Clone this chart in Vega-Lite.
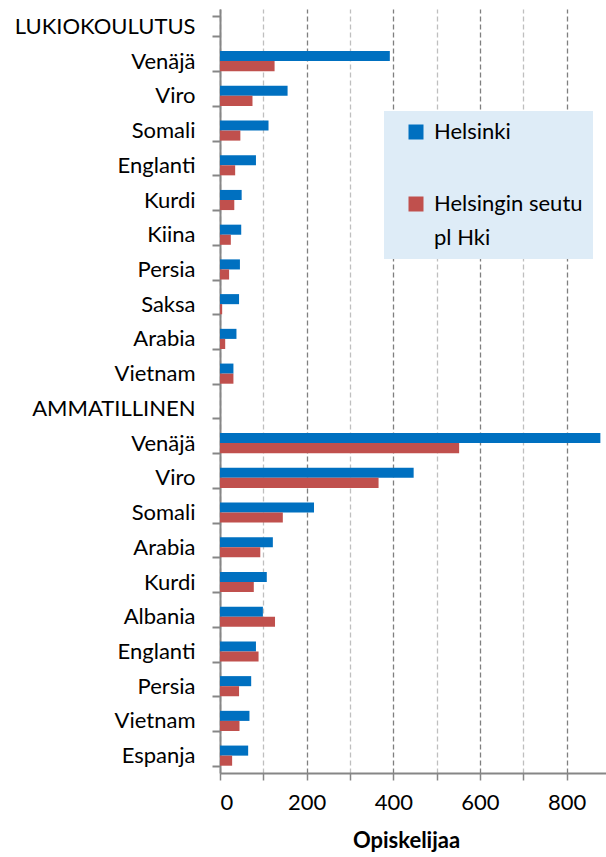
{
  "$schema": "https://vega.github.io/schema/vega-lite/v6.json",
  "autosize": {"type": "none"},
  "width": 386,
  "height": 764,
  "padding": {"left": 220, "top": 9, "right": 0, "bottom": 84},
  "background": "white",
  "config": {
    "font": "Lato",
    "view": {"stroke": null},
    "style": {"guide-label": {"lineHeight": 34}}
  },
  "data": {
    "values": [
      {"k": "L|Venäjä", "s": "Helsinki", "v": 392},
      {"k": "L|Venäjä", "s": "Helsingin seutu pl Hki", "v": 126},
      {"k": "L|Viro", "s": "Helsinki", "v": 156},
      {"k": "L|Viro", "s": "Helsingin seutu pl Hki", "v": 75},
      {"k": "L|Somali", "s": "Helsinki", "v": 112},
      {"k": "L|Somali", "s": "Helsingin seutu pl Hki", "v": 47},
      {"k": "L|Englanti", "s": "Helsinki", "v": 83},
      {"k": "L|Englanti", "s": "Helsingin seutu pl Hki", "v": 35},
      {"k": "L|Kurdi", "s": "Helsinki", "v": 50},
      {"k": "L|Kurdi", "s": "Helsingin seutu pl Hki", "v": 33},
      {"k": "L|Kiina", "s": "Helsinki", "v": 49},
      {"k": "L|Kiina", "s": "Helsingin seutu pl Hki", "v": 25},
      {"k": "L|Persia", "s": "Helsinki", "v": 46},
      {"k": "L|Persia", "s": "Helsingin seutu pl Hki", "v": 21},
      {"k": "L|Saksa", "s": "Helsinki", "v": 44},
      {"k": "L|Saksa", "s": "Helsingin seutu pl Hki", "v": 5},
      {"k": "L|Arabia", "s": "Helsinki", "v": 38},
      {"k": "L|Arabia", "s": "Helsingin seutu pl Hki", "v": 12},
      {"k": "L|Vietnam", "s": "Helsinki", "v": 31},
      {"k": "L|Vietnam", "s": "Helsingin seutu pl Hki", "v": 31},
      {"k": "A|Venäjä", "s": "Helsinki", "v": 878},
      {"k": "A|Venäjä", "s": "Helsingin seutu pl Hki", "v": 552},
      {"k": "A|Viro", "s": "Helsinki", "v": 447},
      {"k": "A|Viro", "s": "Helsingin seutu pl Hki", "v": 366},
      {"k": "A|Somali", "s": "Helsinki", "v": 217},
      {"k": "A|Somali", "s": "Helsingin seutu pl Hki", "v": 145},
      {"k": "A|Arabia", "s": "Helsinki", "v": 122},
      {"k": "A|Arabia", "s": "Helsingin seutu pl Hki", "v": 93},
      {"k": "A|Kurdi", "s": "Helsinki", "v": 108},
      {"k": "A|Kurdi", "s": "Helsingin seutu pl Hki", "v": 78},
      {"k": "A|Albania", "s": "Helsinki", "v": 99},
      {"k": "A|Albania", "s": "Helsingin seutu pl Hki", "v": 127},
      {"k": "A|Englanti", "s": "Helsinki", "v": 83},
      {"k": "A|Englanti", "s": "Helsingin seutu pl Hki", "v": 89},
      {"k": "A|Persia", "s": "Helsinki", "v": 72},
      {"k": "A|Persia", "s": "Helsingin seutu pl Hki", "v": 44},
      {"k": "A|Vietnam", "s": "Helsinki", "v": 68},
      {"k": "A|Vietnam", "s": "Helsingin seutu pl Hki", "v": 45},
      {"k": "A|Espanja", "s": "Helsinki", "v": 65},
      {"k": "A|Espanja", "s": "Helsingin seutu pl Hki", "v": 28}
    ]
  },
  "mark": {"type": "bar"},
  "encoding": {
    "y": {
      "field": "k",
      "type": "nominal",
      "scale": {
        "domain": ["L|LUKIOKOULUTUS", "L|Venäjä", "L|Viro", "L|Somali", "L|Englanti", "L|Kurdi", "L|Kiina", "L|Persia", "L|Saksa", "L|Arabia", "L|Vietnam", "A|AMMATILLINEN", "A|Venäjä", "A|Viro", "A|Somali", "A|Arabia", "A|Kurdi", "A|Albania", "A|Englanti", "A|Persia", "A|Vietnam", "A|Espanja"],
        "paddingInner": 0.42,
        "paddingOuter": 0.21
      },
      "axis": {
        "title": null,
        "labelExpr": "split(datum.label, '|')[1]",
        "labelFontSize": 22,
        "labelColor": "#000000",
        "labelPadding": 17,
        "labelLimit": 300,
        "tickBand": "extent",
        "tickSize": 8,
        "tickColor": "#868686",
        "tickWidth": 2,
        "domainColor": "#868686",
        "domainWidth": 2,
        "grid": false
      }
    },
    "x": {
      "field": "v",
      "type": "quantitative",
      "scale": {"domain": [0, 891], "nice": false},
      "axis": {
        "title": "Opiskelijaa",
        "titleFontSize": 22,
        "titleFontWeight": "bold",
        "titleColor": "#000000",
        "titlePadding": 17,
        "titleX": 186,
        "values": [0, 100, 200, 300, 400, 500, 600, 700, 800],
        "labelExpr": "datum.value % 200 == 0 ? datum.label : ''",
        "labelFontSize": 22,
        "labelColor": "#000000",
        "labelPadding": 12,
        "tickSize": 7,
        "tickColor": "#868686",
        "tickWidth": 1.5,
        "domainColor": "#868686",
        "domainWidth": 2,
        "grid": true,
        "gridDash": [5, 3],
        "gridWidth": 1.3,
        "gridColor": {"condition": {"test": "datum.value % 200 == 0", "value": "#7f7f7f"}, "value": "#bfbfbf"}
      }
    },
    "color": {
      "field": "s",
      "type": "nominal",
      "sort": ["Helsinki", "Helsingin seutu pl Hki"],
      "scale": {"domain": ["Helsinki", "Helsingin seutu pl Hki"], "range": ["#0070c0", "#c0504d"]},
      "legend": {
        "title": null,
        "orient": "none",
        "legendX": 164,
        "legendY": 102,
        "fillColor": "#deecf7",
        "padding": 10,
        "symbolOffset": 11,
        "symbolType": "square",
        "symbolSize": 225,
        "symbolStrokeWidth": 0,
        "labelFontSize": 22,
        "labelColor": "#000000",
        "labelLimit": 300,
        "labelOffset": 7,
        "rowPadding": 50,
        "labelExpr": "datum.value == 'Helsingin seutu pl Hki' ? ['Helsingin seutu', 'pl Hki'] : datum.label"
      }
    },
    "yOffset": {"field": "s", "type": "nominal", "sort": ["Helsinki", "Helsingin seutu pl Hki"], "scale": {"paddingInner": 0, "paddingOuter": 0}}
  }
}
